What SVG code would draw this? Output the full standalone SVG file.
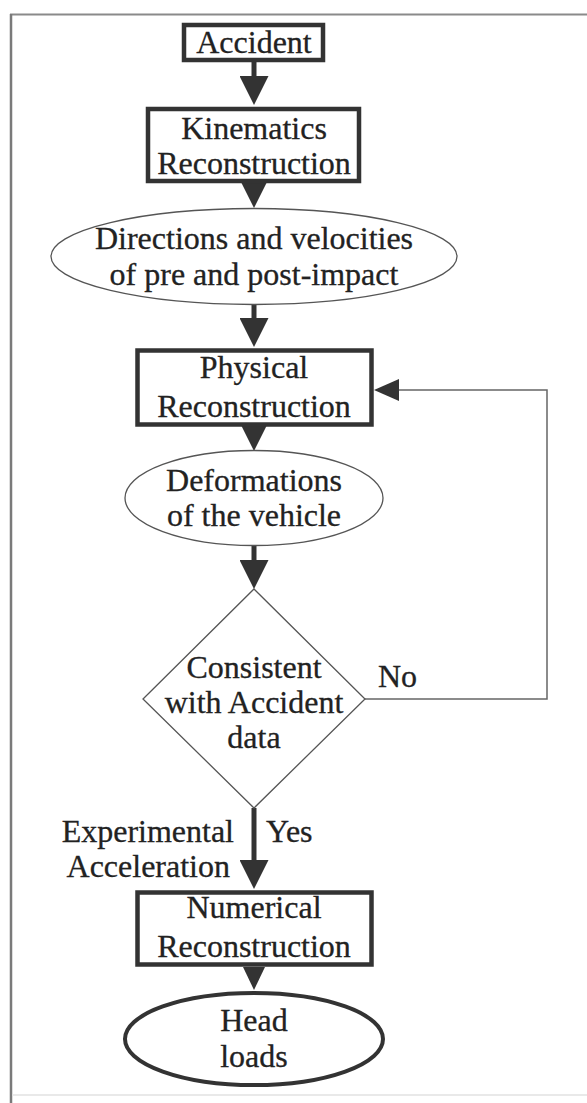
<svg xmlns="http://www.w3.org/2000/svg" width="587" height="1103" viewBox="0 0 587 1103">
<style>
.t{font-family:"Liberation Serif","Times New Roman",serif;font-size:32px;fill:#222;stroke:#222;stroke-width:0.3;text-anchor:middle}
.box{fill:#fff;stroke:#333;stroke-width:4.5}
.thin{fill:#fff;stroke:#555;stroke-width:1.3}
.stem{stroke:#333;stroke-width:5;fill:none}
.fb{stroke:#666;stroke-width:1.5;fill:none}
</style>
<defs>
<marker id="ah" markerUnits="userSpaceOnUse" viewBox="0 0 29 29" refX="0" refY="14.5" markerWidth="29" markerHeight="29" orient="auto">
<path d="M0,0 L29,14.5 L0,29 Z" fill="#333"/>
</marker>
<marker id="ahs" markerUnits="userSpaceOnUse" viewBox="0 0 25 22" refX="0" refY="11" markerWidth="25" markerHeight="22" orient="auto">
<path d="M0,0 L25,11 L0,22 Z" fill="#333"/>
</marker>
</defs>
<rect width="587" height="1103" fill="#fff"/>
<g id="frame">
<line x1="10" y1="14.5" x2="587" y2="14.5" stroke="#8a8a8a" stroke-width="2"/>
<line x1="11" y1="14" x2="11" y2="1103" stroke="#7a7a7a" stroke-width="2.5"/>
<line x1="12" y1="1095" x2="587" y2="1095" stroke="#e2e2e2" stroke-width="1.5"/>
</g>
<g id="connectors">
<path class="stem" d="M254,62 V76" marker-end="url(#ah)"/>
<path class="stem" d="M254,176 V179" marker-end="url(#ah)"/>
<path class="stem" d="M254,304 V318" marker-end="url(#ah)"/>
<path class="stem" d="M254,419 V422" marker-end="url(#ah)"/>
<path class="stem" d="M254,546 V560" marker-end="url(#ah)"/>
<path class="stem" d="M254,808 V860" marker-end="url(#ah)"/>
<path d="M243,967 L265,967 L254,990 Z" fill="#333"/>
<path class="fb" d="M365,699 H547 V390 H399" marker-end="url(#ahs)"/>
</g>
<g id="accident">
<rect class="box" x="184" y="25" width="139" height="35"/>
<text class="t" x="254" y="53">Accident</text>
</g>
<g id="kinematics">
<rect class="box" x="148" y="109" width="211" height="72"/>
<text class="t" x="254" y="139">Kinematics</text>
<text class="t" x="254" y="174">Reconstruction</text>
</g>
<g id="directions">
<ellipse class="thin" cx="254" cy="256.5" rx="203" ry="48"/>
<text class="t" x="254" y="249">Directions and velocities</text>
<text class="t" x="254" y="285">of pre and post-impact</text>
</g>
<g id="physical">
<rect class="box" x="137.5" y="350.5" width="234" height="74" stroke-width="5"/>
<text class="t" x="254" y="378">Physical</text>
<text class="t" x="254" y="417">Reconstruction</text>
</g>
<g id="deformations">
<ellipse class="thin" cx="254" cy="498" rx="129" ry="47.5"/>
<text class="t" x="254" y="491">Deformations</text>
<text class="t" x="254" y="526">of the vehicle</text>
</g>
<g id="consistent">
<polygon class="thin" points="254,589 365,699 254,808 143,699"/>
<text class="t" x="254" y="678">Consistent</text>
<text class="t" x="254" y="713">with Accident</text>
<text class="t" x="254" y="748">data</text>
</g>
<g id="labels">
<text class="t" x="378" y="687" style="text-anchor:start">No</text>
<text class="t" x="234" y="842" style="text-anchor:end">Experimental</text>
<text class="t" x="266" y="842" style="text-anchor:start">Yes</text>
<text class="t" x="230" y="877" style="text-anchor:end">Acceleration</text>
</g>
<g id="numerical">
<rect class="box" x="137.5" y="892.5" width="234" height="72" stroke-width="5"/>
<text class="t" x="254" y="918">Numerical</text>
<text class="t" x="254" y="957">Reconstruction</text>
</g>
<g id="headloads">
<ellipse cx="254" cy="1039" rx="129" ry="46" fill="#fff" stroke="#333" stroke-width="4"/>
<text class="t" x="254" y="1031">Head</text>
<text class="t" x="254" y="1067">loads</text>
</g>
</svg>
